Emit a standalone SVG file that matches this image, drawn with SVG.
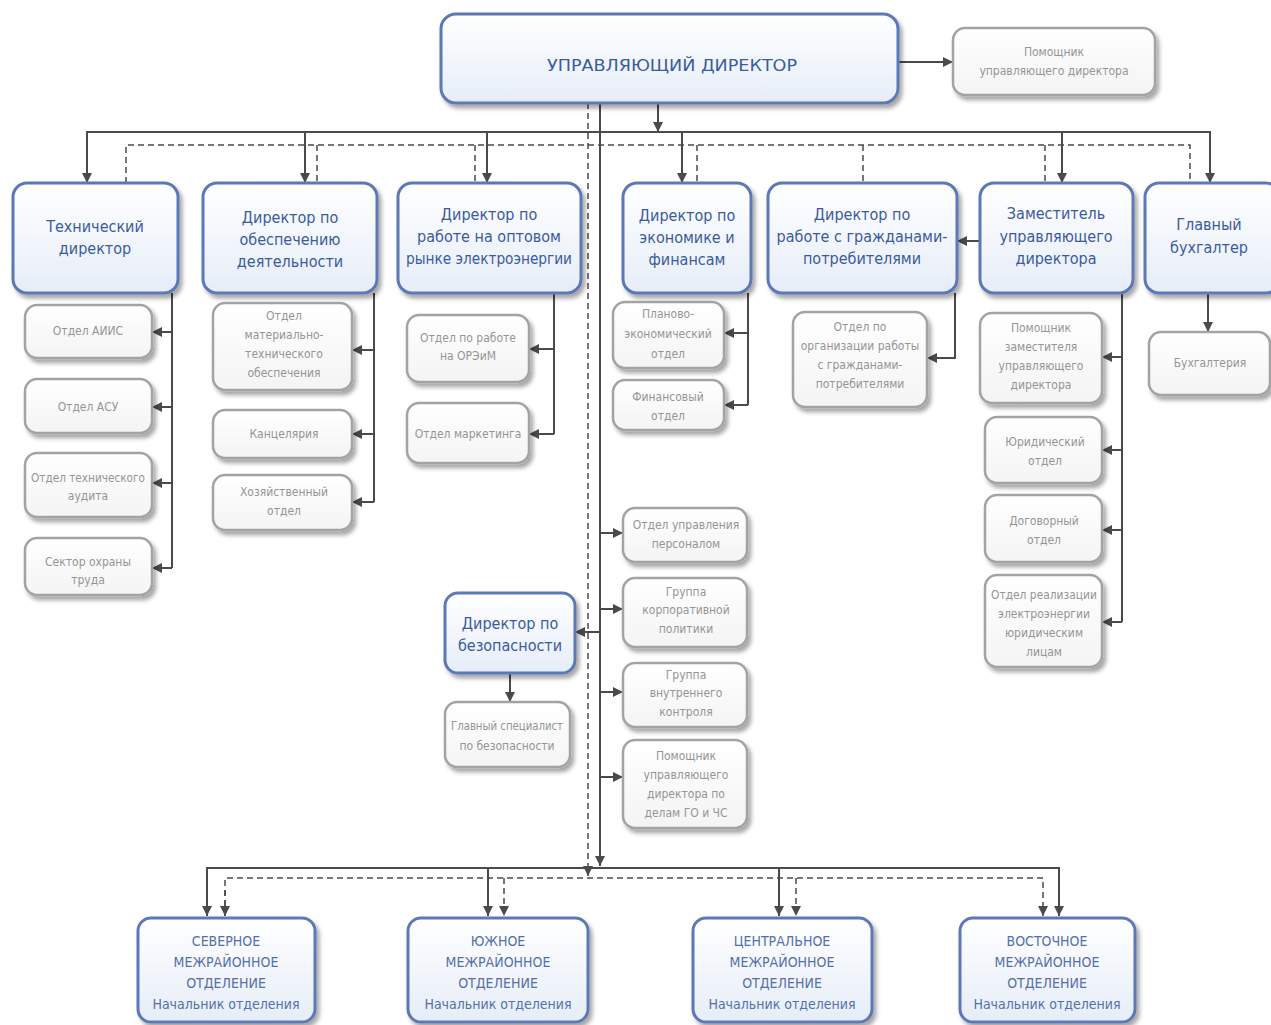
<svg xmlns="http://www.w3.org/2000/svg" width="1271" height="1025" viewBox="0 0 1271 1025">
<defs>
<linearGradient id="bg" x1="0" y1="0" x2="0" y2="1"><stop offset="0" stop-color="#ffffff"/><stop offset="1" stop-color="#e6edf8"/></linearGradient>
<linearGradient id="gg" x1="0" y1="0" x2="0" y2="1"><stop offset="0" stop-color="#ffffff"/><stop offset="1" stop-color="#f4f4f4"/></linearGradient>
<filter id="sh" x="-10%" y="-10%" width="130%" height="140%"><feDropShadow dx="3" dy="4" stdDeviation="2" flood-color="#000" flood-opacity="0.35"/></filter>
<marker id="ar" viewBox="0 0 10 10" refX="10" refY="5" markerWidth="10" markerHeight="10" markerUnits="userSpaceOnUse" orient="auto"><path d="M0,0 L10,5 L0,10 z" fill="#4a4a4a"/></marker>
</defs>
<style>
.b{fill:url(#bg);stroke:#5c78b6;stroke-width:3;filter:url(#sh)}
.g{fill:url(#gg);stroke:#a3a3a3;stroke-width:2.5;filter:url(#sh)}
.bt{font-family:"Liberation Sans Narrow","DejaVu Sans Condensed",sans-serif;fill:#3a5ba0;text-anchor:middle;font-size:16px}
.gt{font-family:"Liberation Sans Narrow","DejaVu Sans Condensed",sans-serif;fill:#959595;text-anchor:middle;font-size:12px}
.rt{font-family:"Liberation Sans Narrow","DejaVu Sans Condensed",sans-serif;fill:#5470ab;text-anchor:middle;font-size:14px}
.s{stroke:#4a4a4a;stroke-width:2;fill:none}
.d{stroke:#4a4a4a;stroke-width:1.5;fill:none;stroke-dasharray:6 4}
</style>
<g id="connectors">
<path class="s" d="M898,62 H953" marker-end="url(#ar)"/>
<path class="s" d="M658,103 V132" marker-end="url(#ar)"/>
<path class="s" d="M87,183 V132 H1210 V183" marker-end="url(#ar)"/>
<path class="s" d="M87,150 V183" marker-end="url(#ar)"/>
<path class="s" d="M305,132 V183" marker-end="url(#ar)"/>
<path class="s" d="M487,132 V183" marker-end="url(#ar)"/>
<path class="s" d="M682,132 V183" marker-end="url(#ar)"/>
<path class="s" d="M1062,132 V183" marker-end="url(#ar)"/>
<path class="d" d="M126,183 V145 H1190 V183"/>
<path class="d" d="M317,145 V183 M475,145 V183 M697,145 V183 M863,145 V183 M1045,145 V183"/>
<path class="s" d="M980,241 H957" marker-end="url(#ar)"/>
<path class="s" d="M600,103 V866" marker-end="url(#ar)"/>
<path class="d" d="M588,103 V876" marker-end="url(#ar)"/>
<path class="s" d="M172,293 V568"/>
<path class="s" d="M172,332 H152" marker-end="url(#ar)"/>
<path class="s" d="M172,407 H152" marker-end="url(#ar)"/>
<path class="s" d="M172,483 H152" marker-end="url(#ar)"/>
<path class="s" d="M172,568 H152" marker-end="url(#ar)"/>
<path class="s" d="M374,293 V502"/>
<path class="s" d="M374,350 H352" marker-end="url(#ar)"/>
<path class="s" d="M374,434 H352" marker-end="url(#ar)"/>
<path class="s" d="M374,502 H352" marker-end="url(#ar)"/>
<path class="s" d="M554,293 V434"/>
<path class="s" d="M554,349 H529" marker-end="url(#ar)"/>
<path class="s" d="M554,434 H529" marker-end="url(#ar)"/>
<path class="s" d="M748,293 V405"/>
<path class="s" d="M748,333 H724" marker-end="url(#ar)"/>
<path class="s" d="M748,405 H724" marker-end="url(#ar)"/>
<path class="s" d="M955,293 V358 H927" marker-end="url(#ar)"/>
<path class="s" d="M1122,293 V622"/>
<path class="s" d="M1122,357 H1102" marker-end="url(#ar)"/>
<path class="s" d="M1122,450 H1102" marker-end="url(#ar)"/>
<path class="s" d="M1122,530 H1102" marker-end="url(#ar)"/>
<path class="s" d="M1122,622 H1102" marker-end="url(#ar)"/>
<path class="s" d="M1208,293 V332" marker-end="url(#ar)"/>
<path class="s" d="M600,533 H623" marker-end="url(#ar)"/>
<path class="s" d="M600,609 H623" marker-end="url(#ar)"/>
<path class="s" d="M600,692 H623" marker-end="url(#ar)"/>
<path class="s" d="M600,777 H623" marker-end="url(#ar)"/>
<path class="s" d="M600,632 H575" marker-end="url(#ar)"/>
<path class="s" d="M510,673 V702" marker-end="url(#ar)"/>
<path class="s" d="M207,916 V868 H1059 V916" marker-end="url(#ar)"/>
<path class="s" d="M207,880 V916" marker-end="url(#ar)"/>
<path class="s" d="M488,868 V916" marker-end="url(#ar)"/>
<path class="s" d="M779,868 V916" marker-end="url(#ar)"/>
<path class="d" d="M225,916 V878 H1043 V916" marker-end="url(#ar)"/>
<path class="d" d="M225,890 V916" marker-end="url(#ar)"/>
<path class="d" d="M504,878 V916" marker-end="url(#ar)"/>
<path class="d" d="M796,878 V916" marker-end="url(#ar)"/>
</g>
<g id="n-main"><rect class="b" x="441" y="14" width="457" height="89" rx="15"/><text class="bt" x="672" y="71" font-size="23" textLength="250" lengthAdjust="spacingAndGlyphs">УПРАВЛЯЮЩИЙ ДИРЕКТОР</text></g>
<g id="n-asst"><rect class="g" x="953" y="28" width="202" height="67" rx="12"/><text class="gt" x="1054" y="56">Помощник</text><text class="gt" x="1054" y="75">управляющего директора</text></g>
<g id="n-tech"><rect class="b" x="13" y="183" width="165" height="110" rx="14"/><text class="bt" x="95" y="232">Технический</text><text class="bt" x="95" y="254">директор</text></g>
<g id="n-obesp"><rect class="b" x="203" y="183" width="174" height="110" rx="14"/><text class="bt" x="290" y="223">Директор по</text><text class="bt" x="290" y="245">обеспечению</text><text class="bt" x="290" y="267">деятельности</text></g>
<g id="n-opt"><rect class="b" x="398" y="183" width="183" height="110" rx="14"/><text class="bt" x="489" y="220">Директор по</text><text class="bt" x="489" y="242">работе на оптовом</text><text class="bt" x="489" y="264" textLength="166" lengthAdjust="spacingAndGlyphs">рынке электроэнергии</text></g>
<g id="n-econ"><rect class="b" x="623" y="183" width="128" height="110" rx="14"/><text class="bt" x="687" y="221">Директор по</text><text class="bt" x="687" y="243">экономике и</text><text class="bt" x="687" y="265">финансам</text></g>
<g id="n-grazh"><rect class="b" x="768" y="183" width="189" height="110" rx="14"/><text class="bt" x="862" y="220">Директор по</text><text class="bt" x="862" y="242">работе с гражданами-</text><text class="bt" x="862" y="264">потребителями</text></g>
<g id="n-zam"><rect class="b" x="980" y="183" width="153" height="110" rx="14"/><text class="bt" x="1056" y="219">Заместитель</text><text class="bt" x="1056" y="242">управляющего</text><text class="bt" x="1056" y="264">директора</text></g>
<g id="n-buh"><rect class="b" x="1145" y="183" width="135" height="110" rx="14"/><text class="bt" x="1209" y="230">Главный</text><text class="bt" x="1209" y="253">бухгалтер</text></g>
<g id="n-aiis"><rect class="g" x="25" y="305" width="127" height="53" rx="12"/><text class="gt" x="88" y="335">Отдел АИИС</text></g>
<g id="n-asu"><rect class="g" x="25" y="379" width="127" height="54" rx="12"/><text class="gt" x="88" y="411">Отдел АСУ</text></g>
<g id="n-audit"><rect class="g" x="25" y="453" width="127" height="64" rx="12"/><text class="gt" x="88" y="482" textLength="114" lengthAdjust="spacingAndGlyphs">Отдел технического</text><text class="gt" x="88" y="500">аудита</text></g>
<g id="n-ohrana"><rect class="g" x="25" y="538" width="127" height="57" rx="12"/><text class="gt" x="88" y="566">Сектор охраны</text><text class="gt" x="88" y="584">труда</text></g>
<g id="n-mto"><rect class="g" x="213" y="303" width="139" height="87" rx="12"/><text class="gt" x="284" y="320">Отдел</text><text class="gt" x="284" y="339">материально-</text><text class="gt" x="284" y="358">технического</text><text class="gt" x="284" y="377">обеспечения</text></g>
<g id="n-kanc"><rect class="g" x="213" y="410" width="139" height="48" rx="12"/><text class="gt" x="284" y="438">Канцелярия</text></g>
<g id="n-hoz"><rect class="g" x="213" y="475" width="139" height="55" rx="12"/><text class="gt" x="284" y="496">Хозяйственный</text><text class="gt" x="284" y="515">отдел</text></g>
<g id="n-orem"><rect class="g" x="407" y="315" width="122" height="67" rx="12"/><text class="gt" x="468" y="342">Отдел по работе</text><text class="gt" x="468" y="360">на ОРЭиМ</text></g>
<g id="n-mark"><rect class="g" x="407" y="403" width="122" height="60" rx="12"/><text class="gt" x="468" y="438">Отдел маркетинга</text></g>
<g id="n-plan"><rect class="g" x="613" y="302" width="111" height="66" rx="12"/><text class="gt" x="668" y="318">Планово-</text><text class="gt" x="668" y="338">экономический</text><text class="gt" x="668" y="358">отдел</text></g>
<g id="n-fin"><rect class="g" x="613" y="380" width="111" height="50" rx="12"/><text class="gt" x="668" y="401">Финансовый</text><text class="gt" x="668" y="420">отдел</text></g>
<g id="n-org"><rect class="g" x="793" y="312" width="134" height="95" rx="12"/><text class="gt" x="860" y="331">Отдел по</text><text class="gt" x="860" y="350">организации работы</text><text class="gt" x="860" y="369">с гражданами-</text><text class="gt" x="860" y="388">потребителями</text></g>
<g id="n-pomzam"><rect class="g" x="980" y="313" width="122" height="90" rx="12"/><text class="gt" x="1041" y="332">Помощник</text><text class="gt" x="1041" y="351">заместителя</text><text class="gt" x="1041" y="370">управляющего</text><text class="gt" x="1041" y="389">директора</text></g>
<g id="n-yur"><rect class="g" x="985" y="417" width="117" height="66" rx="12"/><text class="gt" x="1045" y="446">Юридический</text><text class="gt" x="1045" y="465">отдел</text></g>
<g id="n-dog"><rect class="g" x="985" y="495" width="117" height="67" rx="12"/><text class="gt" x="1044" y="525">Договорный</text><text class="gt" x="1044" y="544">отдел</text></g>
<g id="n-real"><rect class="g" x="985" y="575" width="117" height="92" rx="12"/><text class="gt" x="1044" y="599" textLength="106" lengthAdjust="spacingAndGlyphs">Отдел реализации</text><text class="gt" x="1044" y="618">электроэнергии</text><text class="gt" x="1044" y="637">юридическим</text><text class="gt" x="1044" y="656">лицам</text></g>
<g id="n-buhg"><rect class="g" x="1149" y="332" width="121" height="63" rx="12"/><text class="gt" x="1210" y="367">Бухгалтерия</text></g>
<g id="n-pers"><rect class="g" x="623" y="508" width="124" height="54" rx="12"/><text class="gt" x="686" y="529">Отдел управления</text><text class="gt" x="686" y="548">персоналом</text></g>
<g id="n-korp"><rect class="g" x="623" y="578" width="124" height="69" rx="12"/><text class="gt" x="686" y="596">Группа</text><text class="gt" x="686" y="614">корпоративной</text><text class="gt" x="686" y="633">политики</text></g>
<g id="n-vnutr"><rect class="g" x="623" y="663" width="124" height="64" rx="12"/><text class="gt" x="686" y="679">Группа</text><text class="gt" x="686" y="697">внутреннего</text><text class="gt" x="686" y="716">контроля</text></g>
<g id="n-go"><rect class="g" x="623" y="740" width="124" height="88" rx="12"/><text class="gt" x="686" y="760">Помощник</text><text class="gt" x="686" y="779">управляющего</text><text class="gt" x="686" y="798">директора по</text><text class="gt" x="686" y="817">делам ГО и ЧС</text></g>
<g id="n-bez"><rect class="b" x="445" y="593" width="130" height="80" rx="13"/><text class="bt" x="510" y="629">Директор по</text><text class="bt" x="510" y="651">безопасности</text></g>
<g id="n-spec"><rect class="g" x="445" y="702" width="125" height="65" rx="12"/><text class="gt" x="507" y="730" textLength="112" lengthAdjust="spacingAndGlyphs">Главный специалист</text><text class="gt" x="507" y="750">по безопасности</text></g>
<g id="n-sev"><rect class="b" x="138" y="918" width="177" height="104" rx="13"/><text class="rt" x="226" y="946">СЕВЕРНОЕ</text><text class="rt" x="226" y="967">МЕЖРАЙОННОЕ</text><text class="rt" x="226" y="988">ОТДЕЛЕНИЕ</text><text class="rt" x="226" y="1009">Начальник отделения</text></g>
<g id="n-yuzh"><rect class="b" x="408" y="918" width="180" height="104" rx="13"/><text class="rt" x="498" y="946">ЮЖНОЕ</text><text class="rt" x="498" y="967">МЕЖРАЙОННОЕ</text><text class="rt" x="498" y="988">ОТДЕЛЕНИЕ</text><text class="rt" x="498" y="1009">Начальник отделения</text></g>
<g id="n-centr"><rect class="b" x="693" y="918" width="179" height="104" rx="13"/><text class="rt" x="782" y="946">ЦЕНТРАЛЬНОЕ</text><text class="rt" x="782" y="967">МЕЖРАЙОННОЕ</text><text class="rt" x="782" y="988">ОТДЕЛЕНИЕ</text><text class="rt" x="782" y="1009">Начальник отделения</text></g>
<g id="n-vost"><rect class="b" x="960" y="918" width="175" height="104" rx="13"/><text class="rt" x="1047" y="946">ВОСТОЧНОЕ</text><text class="rt" x="1047" y="967">МЕЖРАЙОННОЕ</text><text class="rt" x="1047" y="988">ОТДЕЛЕНИЕ</text><text class="rt" x="1047" y="1009">Начальник отделения</text></g>
</svg>
